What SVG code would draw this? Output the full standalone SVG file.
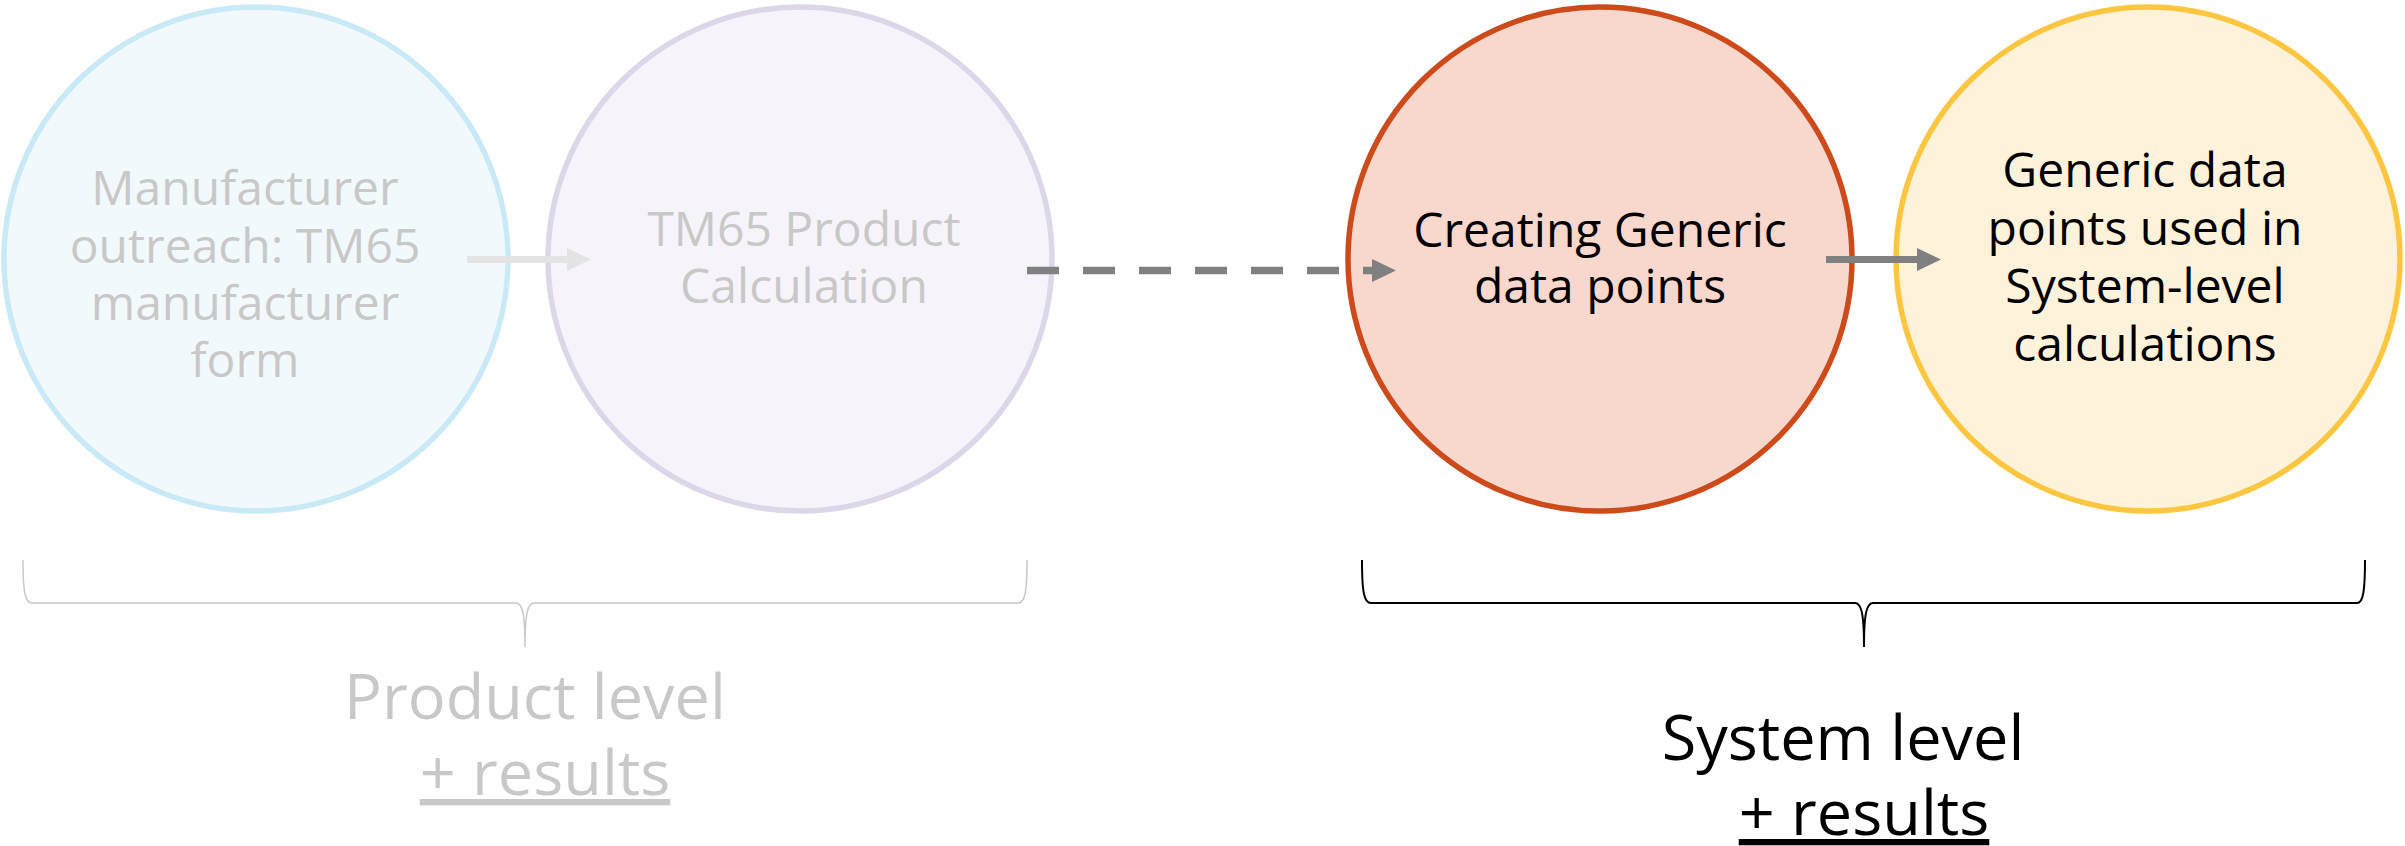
<svg xmlns="http://www.w3.org/2000/svg" width="2405" height="846" viewBox="0 0 2405 846">
<style>
.t{font-family:"Open Sans","Noto Sans","DejaVu Sans",sans-serif;text-anchor:middle}
.c{font-size:48px}
.lbl{font-size:63px}
.gray{fill:#c8c8c8}
.dark{fill:#000000}
.u{text-decoration:underline}
.brace{fill:none}
.node{stroke-width:5.5}
</style>
<defs>
<marker id="headLight" markerUnits="userSpaceOnUse" markerWidth="24" markerHeight="24" refX="0" refY="11.5" orient="auto" viewBox="0 0 24 24">
<path d="M0,0 L24,11.5 L0,23 z" fill="#e3e3e3"/>
</marker>
<marker id="headDark" markerUnits="userSpaceOnUse" markerWidth="24" markerHeight="24" refX="0" refY="11.5" orient="auto" viewBox="0 0 24 24">
<path d="M0,0 L24,11.5 L0,23 z" fill="#808080"/>
</marker>
</defs>
<rect width="2405" height="846" fill="#ffffff"/>

<g id="node-manufacturer-outreach">
<circle class="node" cx="256" cy="259" r="252" fill="#f2f9fd" stroke="#c9e9f6"/>
<text class="t c gray" x="245" y="205">Manufacturer</text>
<text class="t c gray" x="245" y="263">outreach: TM65</text>
<text class="t c gray" x="245" y="320">manufacturer</text>
<text class="t c gray" x="245" y="377">form</text>
</g>

<g id="node-tm65-product-calculation">
<circle class="node" cx="800" cy="259" r="252" fill="#f6f4fa" stroke="#dcd6e8"/>
<text class="t c gray" x="804" y="246">TM65 Product</text>
<text class="t c gray" x="804" y="303">Calculation</text>
</g>

<g id="node-creating-generic">
<circle class="node" cx="1600" cy="259" r="252" fill="#f8d7cd" stroke="#cd4a1b"/>
<text class="t c dark" x="1600" y="247">Creating Generic</text>
<text class="t c dark" x="1600" y="303">data points</text>
</g>

<g id="node-generic-used">
<circle class="node" cx="2148" cy="259" r="252" fill="#fff2db" stroke="#fdc640"/>
<text class="t c dark" x="2145" y="187">Generic data</text>
<text class="t c dark" x="2145" y="245">points used in</text>
<text class="t c dark" x="2145" y="303">System-level</text>
<text class="t c dark" x="2145" y="361">calculations</text>
</g>

<g id="connectors">
<line x1="467" y1="259.5" x2="567" y2="259.5" stroke="#e3e3e3" stroke-width="7" marker-end="url(#headLight)"/>
<line x1="1027" y1="270.5" x2="1372" y2="270.5" stroke="#808080" stroke-width="7.5" stroke-dasharray="32 24" marker-end="url(#headDark)"/>
<line x1="1826" y1="259.5" x2="1917" y2="259.5" stroke="#808080" stroke-width="7" marker-end="url(#headDark)"/>
</g>

<g id="group-product-level">
<path class="brace" stroke="#c8c8c8" stroke-width="1.5" d="M23,560 C23,592 25,603 32,603 L516,603 C522,603 525,612 525,647 C525,612 528,603 534,603 L1018,603 C1025,603 1027,592 1027,560"/>
<text class="t lbl gray" x="535" y="719">Product level</text>
<text class="t lbl gray u" x="545" y="795">+ results</text>
</g>

<g id="group-system-level">
<path class="brace" stroke="#000000" stroke-width="2" d="M1362,560 C1362,592 1364,603 1371,603 L1855,603 C1861,603 1864,612 1864,647 C1864,612 1867,603 1873,603 L2357,603 C2363,603 2365,592 2365,560"/>
<text class="t lbl dark" x="1843" y="760">System level</text>
<text class="t lbl dark u" x="1864" y="835">+ results</text>
</g>
</svg>
